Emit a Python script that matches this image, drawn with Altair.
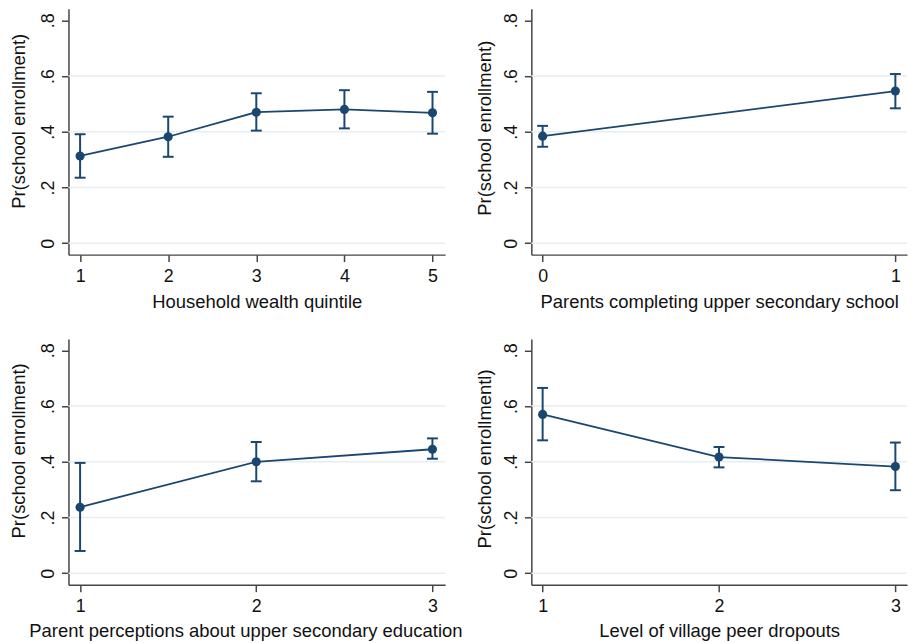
import altair as alt
import pandas as pd

NAVY = "#1a476f"
FONT = "Liberation Sans"
AXIS_GRAY = "#444444"
GRID_COLOR = "#e6eef1"

# ---- data ----
p1_x = [1, 2, 3, 4, 5]
p1_est = [0.313, 0.382, 0.470, 0.480, 0.468]
p1_lo = [0.235, 0.310, 0.404, 0.412, 0.393]
p1_hi = [0.391, 0.454, 0.538, 0.549, 0.543]

p2_x = [0, 1]
p2_est = [0.384, 0.546]
p2_lo = [0.346, 0.484]
p2_hi = [0.421, 0.607]

p3_x = [1, 2, 3]
p3_est = [0.237, 0.400, 0.445]
p3_lo = [0.080, 0.330, 0.411]
p3_hi = [0.396, 0.471, 0.484]

p4_x = [1, 2, 3]
p4_est = [0.570, 0.417, 0.383]
p4_lo = [0.477, 0.380, 0.298]
p4_hi = [0.665, 0.453, 0.469]

titles_x = [
    "Household wealth quintile",
    "Parents completing upper secondary school",
    "Parent perceptions about upper secondary education",
    "Level of village peer dropouts",
]
titles_y = [
    "Pr(school enrollment)",
    "Pr(school enrollment)",
    "Pr(school enrollment)",
    "Pr(school enrollmentl)",
]

Y_DOMAIN = [-0.041, 0.841]
Y_TICKS = [0, 0.2, 0.4, 0.6, 0.8]
GRID_VALUES = [0, 0.2, 0.4, 0.6]


def panel(xs, est, lo, hi, xdomain, xtitle, ytitle, width, xlabelpad,
          xtitlepad, ytitlepad, title_y, title_x=None):
    df = pd.DataFrame({"x": xs, "est": est, "lo": lo, "hi": hi})
    xscale = alt.Scale(domain=xdomain, nice=False, zero=False)
    yscale = alt.Scale(domain=Y_DOMAIN, nice=False, zero=False)
    xkw = dict(values=xs, format="d", title=xtitle, grid=False, tickSize=7,
               labelPadding=xlabelpad, titlePadding=xtitlepad)
    if title_x is not None:
        xkw["titleX"] = title_x
    xaxis = alt.Axis(**xkw)
    yaxis = alt.Axis(values=Y_TICKS, title=ytitle, grid=False, tickSize=7,
                     labelAngle=270, labelAlign="center", labelBaseline="bottom",
                     labelPadding=4,
                     labelExpr="datum.value == 0 ? '0' : '.' + round(datum.value * 10)",
                     titlePadding=ytitlepad, titleY=title_y)
    X = alt.X("x:Q", scale=xscale, axis=xaxis)

    def Y(field):
        return alt.Y(field, scale=yscale, axis=yaxis)

    grid = alt.Chart(pd.DataFrame({"g": GRID_VALUES})).mark_rule(
        color=GRID_COLOR, strokeWidth=1.5).encode(y=Y("g:Q"))
    base = alt.Chart(df)
    line = base.mark_line(color=NAVY, strokeWidth=1.8).encode(x=X, y=Y("est:Q"))
    bars = base.mark_rule(color=NAVY, strokeWidth=2).encode(
        x=X, y=Y("lo:Q"), y2="hi:Q")
    cap_lo = base.mark_tick(color=NAVY, orient="horizontal", size=11,
                            thickness=2, opacity=1).encode(x=X, y=Y("lo:Q"))
    cap_hi = base.mark_tick(color=NAVY, orient="horizontal", size=11,
                            thickness=2, opacity=1).encode(x=X, y=Y("hi:Q"))
    pts = base.mark_circle(color=NAVY, size=85, opacity=1).encode(
        x=X, y=Y("est:Q"))
    return alt.layer(grid, line, bars, cap_lo, cap_hi, pts).properties(
        width=width, height=248)


c1 = panel(p1_x, p1_est, p1_lo, p1_hi, [0.868, 5.143], titles_x[0], titles_y[0],
           380, 6, 7, 11.5, 113)
c2 = panel(p2_x, p2_est, p2_lo, p2_hi, [-0.032, 1.033], titles_x[1], titles_y[1],
           379, 6, 7, 8.5, 120)
c3 = panel(p3_x, p3_est, p3_lo, p3_hi, [0.934, 3.072], titles_x[2], titles_y[2],
           380, 6, 6, 11.5, 112.5, title_x=178.5)
c4 = panel(p4_x, p4_est, p4_lo, p4_hi, [0.936, 3.066], titles_x[3], titles_y[3],
           379, 6, 6, 8.5, 120.7)

base_chart = alt.concat(c1, c2, c3, c4, columns=2,
                        spacing={"row": 85, "column": 87}, bounds="flush")

chart = base_chart.properties(
    padding={"left": 1, "top": -2, "right": 0, "bottom": 0}
).configure_view(stroke=None).configure_axis(
    domainColor=AXIS_GRAY, domainWidth=1.5, tickColor=AXIS_GRAY, tickWidth=1.5,
    labelFont=FONT, titleFont=FONT, labelFontSize=18, titleFontSize=18.6,
    labelColor="#111111", titleColor="#111111", titleFontWeight="normal",
)

chart.save("out.html", embed_options={"renderer": "svg", "actions": False})
